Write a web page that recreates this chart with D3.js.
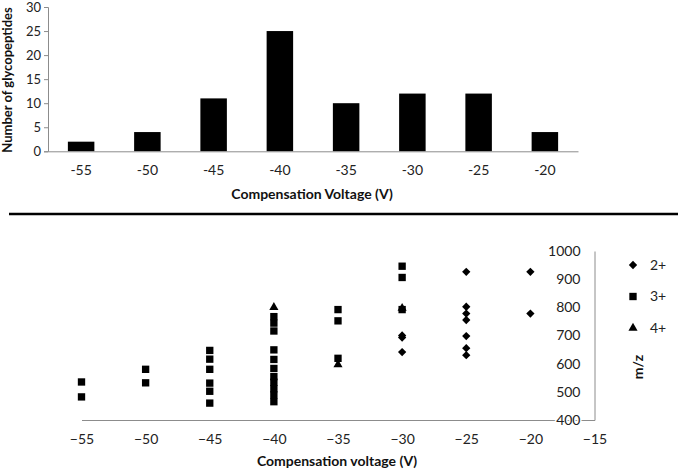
<!DOCTYPE html>
<html><head><meta charset="utf-8">
<script src="https://cdn.jsdelivr.net/npm/d3@7"></script>
<style>body{margin:0;background:#fff}svg{display:block}text{font-family:Lato,"Open Sans",sans-serif}</style>
</head><body>
<svg id="c" width="680" height="470"></svg>
<script>
// ---- Top chart data ----
const barCategories = ["-55","-50","-45","-40","-35","-30","-25","-20"];
const barCounts = [2,4,11,25,10,12,12,4];
const barYTicks = [0,5,10,15,20,25,30];

// ---- Bottom chart data ----
const xTicksScatter = [-55,-50,-45,-40,-35,-30,-25,-20,-15];
const yTicksScatter = [400,500,600,700,800,900,1000];
const cv2 = [-30,-30,-30,-25,-25,-25,-25,-25,-25,-25,-20,-20];
const mz2 = [700,693,641,926,802,778,755,698,655,630,926,778];
const cv3 = [-55,-55,-50,-50,-45,-45,-45,-45,-45,-45,-40,-40,-40,-40,-40,-40,-40,-40,-40,-40,-40,-35,-35,-35,-30,-30,-30];
const mz3 = [535,482,580,532,647,616,580,531,502,460,767,744,716,649,615,583,554,534,511,489,465,792,752,619,946,906,792];
const cv4 = [-40,-35,-30];
const mz4 = [800,597,797];
const legendLabels = ["2+","3+","4+"];

const svg = d3.select("#c");
const axisGray = "#8c8c8c";

// ===== Top bar chart =====
const xb = d3.scaleBand().domain(barCategories).range([48,578]).paddingInner(0.6).paddingOuter(0.3);
const yb = d3.scaleLinear().domain([0,30]).range([151.3,7]);

const gTop = svg.append("g");
gTop.selectAll("rect.bar").data(barCounts).join("rect")
  .attr("x",(d,i)=>xb(barCategories[i])).attr("width",xb.bandwidth())
  .attr("y",d=>yb(d)).attr("height",d=>yb(0)-yb(d)).attr("fill","#000");

// y axis
const yAxisTop = d3.axisLeft(yb).tickValues(barYTicks).tickSize(4).tickPadding(3);
const ya = gTop.append("g").attr("transform","translate(48,0)").call(yAxisTop);
ya.select(".domain").attr("stroke",axisGray);
ya.selectAll(".tick line").attr("stroke",axisGray);
ya.selectAll("text").attr("font-size",13).attr("fill","#222");
// x axis
const xAxisTop = d3.axisBottom(xb).tickSize(0).tickPadding(14);
const xa = gTop.append("g").attr("transform",`translate(0,${yb(0)})`).call(xAxisTop);
xa.select(".domain").attr("stroke",axisGray);
xa.selectAll("text").attr("font-size",14).attr("fill","#222");

gTop.append("text").attr("x",312).attr("y",199).attr("text-anchor","middle")
  .attr("font-weight","bold").attr("font-size",14).attr("fill","#111").text("Compensation Voltage (V)");
gTop.append("text").attr("transform","translate(12,80) rotate(-90)").attr("text-anchor","middle")
  .attr("font-weight","bold").attr("font-size",13).attr("fill","#111").text("Number of glycopeptides");

// divider
svg.append("line").attr("x1",9).attr("x2",678).attr("y1",214).attr("y2",214)
  .attr("stroke","#000").attr("stroke-width",2.5);

// ===== Bottom scatter =====
const xs = d3.scaleLinear().domain([-55,-15]).range([81.5,594.5]);
const ys = d3.scaleLinear().domain([400,1000]).range([420,251]);
const gB = svg.append("g");

const xAxisB = d3.axisBottom(xs).tickValues(xTicksScatter).tickSize(0).tickPadding(14).tickFormat(d3.format("d"));
const xab = gB.append("g").attr("transform",`translate(0,${ys(400)})`).call(xAxisB);
xab.select(".domain").attr("stroke",axisGray);
xab.selectAll("text").attr("font-size",14).attr("fill","#222");

const yAxisB = d3.axisLeft(ys).tickValues(yTicksScatter).tickSize(0).tickPadding(14).tickFormat(d3.format("d"));
const yab = gB.append("g").attr("transform",`translate(${xs(-15)},0)`).call(yAxisB);
yab.select(".domain").attr("stroke",axisGray);
yab.selectAll("text").attr("font-size",14).attr("fill","#222")
  .attr("stroke","#fff").attr("stroke-width",3).attr("paint-order","stroke");

const sym = {
  "2+": d3.symbol().type(d3.symbolDiamond2).size(44),
  "3+": d3.symbol().type(d3.symbolSquare).size(54),
  "4+": d3.symbol().type(d3.symbolTriangle).size(36)
};
function plot(cv,mz,key){
  gB.append("g").selectAll("path").data(cv).join("path")
    .attr("transform",(d,i)=>`translate(${xs(d)},${ys(mz[i])})`)
    .attr("d",sym[key]()).attr("fill","#000");
}
plot(cv4,mz4,"4+");
plot(cv3,mz3,"3+");
plot(cv2,mz2,"2+");

gB.append("text").attr("x",337).attr("y",466).attr("text-anchor","middle")
  .attr("font-weight","bold").attr("font-size",14).attr("fill","#111").text("Compensation voltage (V)");
gB.append("text").attr("transform","translate(643,367) rotate(-90)").attr("text-anchor","middle")
  .attr("font-weight","bold").attr("font-size",14).attr("fill","#111").text("m/z");

// legend
const lg = gB.append("g");
legendLabels.forEach((k,i)=>{
  const y = 265 + i*31.5;
  lg.append("path").attr("transform",`translate(633,${y})`).attr("d",sym[k]()).attr("fill","#000");
  lg.append("text").attr("x",650).attr("y",y).attr("dy","0.35em").attr("font-size",14).attr("fill","#222").text(k);
});
</script>
</body></html>
